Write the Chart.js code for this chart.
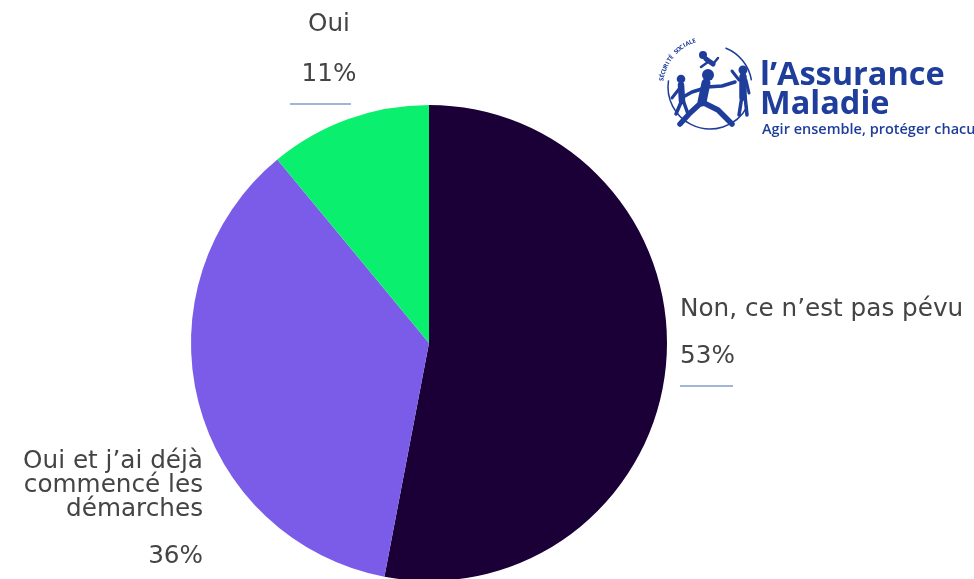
<!DOCTYPE html>
<html>
<head>
<meta charset="utf-8">
<script src="https://cdn.jsdelivr.net/npm/chart.js@4.4.1/dist/chart.umd.min.js"></script>
<style>
  html, body { margin: 0; padding: 0; background: #fff; overflow: hidden; }
  #wrap { width: 974px; height: 590px; position: relative; }
</style>
</head>
<body>
<div id="wrap"><canvas id="pieChart"></canvas></div>
<script>
// data
const labels = ["Non, ce n’est pas pévu", "Oui et j’ai déjà commencé les démarches", "Oui"];
const values = [53, 36, 11];
const sliceColors = ["#1a0036", "#7b5ce9", "#0aef6e"];

// label lines as they wrap in the picture
const labelLines = [
  ["Non, ce n’est pas pévu"],
  ["Oui et j’ai déjà", "commencé les", "démarches"],
  ["Oui"]
];

const textColor = "#444444";
const lineColor = "#9fb6d6";
const labelFont = "24.7px 'DejaVu Sans', sans-serif";

// outside labels, one spot per slice (layout only)
const labelPlugin = {
  id: "outsideLabels",
  afterDraw(chart) {
    const ctx = chart.ctx;
    ctx.save();
    ctx.fillStyle = textColor;
    ctx.font = labelFont;
    ctx.textBaseline = "middle";

    // Non... (right side, left aligned)
    ctx.textAlign = "left";
    ctx.fillText(labelLines[0][0], 680, 310);
    ctx.fillText(values[0] + "%", 680, 357);
    ctx.strokeStyle = lineColor;
    ctx.lineWidth = 2;
    ctx.beginPath(); ctx.moveTo(680, 386); ctx.lineTo(733, 386); ctx.stroke();

    // Oui et j'ai déjà... (left side, right aligned)
    ctx.textAlign = "right";
    labelLines[1].forEach((t, i) => ctx.fillText(t, 203, 462 + i * 24));
    ctx.fillText(values[1] + "%", 203, 557);

    // Oui (top, centered)
    ctx.textAlign = "center";
    ctx.fillText(labelLines[2][0], 329, 25);
    ctx.fillText(values[2] + "%", 329, 75);
    ctx.beginPath(); ctx.moveTo(290, 104); ctx.lineTo(351, 104); ctx.stroke();
    ctx.restore();
  }
};

// rough logo of l'Assurance Maladie
const logoPlugin = {
  id: "logo",
  afterDraw(chart) {
    const ctx = chart.ctx;
    const blue = "#1f3e9c";
    ctx.save();
    ctx.strokeStyle = blue;
    ctx.fillStyle = blue;

    // ring
    ctx.lineWidth = 1.5;
    ctx.beginPath();
    ctx.arc(710, 87, 42, Math.PI * 0.15, Math.PI * 1.05);
    ctx.stroke();
    ctx.beginPath();
    ctx.arc(710, 87, 42, Math.PI * 1.62, Math.PI * 1.95);
    ctx.stroke();

    // curved small text
    ctx.font = "bold 6px 'Open Sans', sans-serif";
    const txt = "SÉCURITÉ SOCIALE";
    let a = Math.PI * 1.05;
    for (const ch of txt) {
      ctx.save();
      ctx.translate(710 + 47 * Math.cos(a), 87 + 47 * Math.sin(a));
      ctx.rotate(a + Math.PI / 2);
      ctx.textAlign = "center";
      ctx.fillText(ch, 0, 0);
      ctx.restore();
      a += 0.072;
    }

    // figures
    ctx.lineCap = "round";
    ctx.lineJoin = "round";
    const limb = (pts, w) => {
      ctx.lineWidth = w;
      ctx.beginPath();
      ctx.moveTo(pts[0][0], pts[0][1]);
      for (let i = 1; i < pts.length; i++) ctx.lineTo(pts[i][0], pts[i][1]);
      ctx.stroke();
    };
    const head = (x, y, r) => { ctx.beginPath(); ctx.arc(x, y, r, 0, Math.PI * 2); ctx.fill(); };

    // big runner
    head(708, 75, 6);
    limb([[706, 83], [702, 102]], 9);
    limb([[702, 102], [690, 113], [680, 124]], 5.5);
    limb([[702, 102], [718, 110], [732, 124]], 5.5);
    limb([[705, 88], [692, 92], [683, 97]], 3.5);
    limb([[707, 87], [722, 86], [735, 82]], 3.5);
    // left child
    head(681, 79, 4.3);
    limb([[681, 85], [682, 101]], 6.5);
    limb([[682, 100], [676, 114]], 3.5);
    limb([[683, 100], [688, 114]], 3.5);
    limb([[679, 89], [672, 98]], 3);
    // right child
    head(743, 70, 4.5);
    limb([[743, 77], [743, 97]], 7.5);
    limb([[742, 96], [739, 115]], 3.5);
    limb([[745, 96], [747, 115]], 3.5);
    limb([[739, 80], [732, 71]], 3);
    limb([[746, 80], [749, 93]], 3);
    // baby
    head(703, 55, 4);
    limb([[706, 59], [713, 64]], 5);
    limb([[713, 64], [718, 58]], 2.5);
    limb([[708, 62], [701, 67]], 2.5);

    // wordmark
    ctx.textAlign = "left";
    ctx.textBaseline = "alphabetic";
    ctx.font = "bold 32.5px 'Open Sans', sans-serif";
    ctx.fillText("l’Assurance", 760, 85);
    ctx.fillText("Maladie", 760, 114);
    ctx.font = "600 14.5px 'Open Sans', sans-serif";
    ctx.fillText("Agir ensemble, protéger chacun", 762, 134);
    ctx.restore();
  }
};

new Chart(document.getElementById("pieChart"), {
  type: "pie",
  data: {
    labels: labels,
    datasets: [{
      data: values,
      backgroundColor: sliceColors,
      borderWidth: 0
    }]
  },
  options: {
    responsive: true,
    maintainAspectRatio: false,
    animation: false,
    layout: {
      padding: { left: 191, right: 307, top: 105, bottom: 9 }
    },
    plugins: {
      legend: { display: false },
      tooltip: { enabled: false }
    }
  },
  plugins: [labelPlugin, logoPlugin]
});
</script>
</body>
</html>
